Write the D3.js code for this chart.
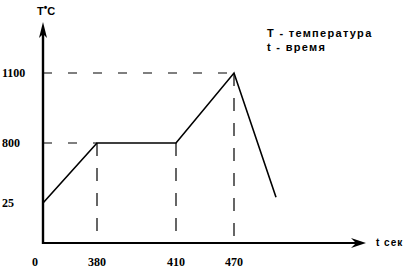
<!DOCTYPE html>
<html>
<head>
<meta charset="utf-8">
<script src="https://cdn.jsdelivr.net/npm/d3@7"></script>
<style>
  body { margin: 0; background: #fff; }
</style>
</head>
<body>
<div id="chart"></div>
<script>
// data
const timeTicks = [0, 380, 410, 470];
const tempTicks = [25, 800, 1100];
const pointsTime = [0, 380, 410, 470, 500];
const pointsTemp = [25, 800, 800, 1100, 100];
const legendLines = ["T - температура", "t - время"];

const svg = d3.select("#chart")
  .append("svg")
  .attr("width", 407)
  .attr("height", 270);

// schematic (non uniform) axes
const x = d3.scaleLinear()
  .domain([0, 380, 410, 470, 500])
  .range([43, 97, 176, 234, 276]);

const y = d3.scaleLinear()
  .domain([0, 25, 800, 1100])
  .range([243, 203, 143, 73]);

const data = pointsTime.map((t, i) => ({ t: t, v: pointsTemp[i] }));

// dashed guides
const guides = data.slice(1, 4);
svg.selectAll(".hguide")
  .data(guides.filter(d => d.t != 410))
  .enter().append("line")
  .attr("x1", x(0)).attr("x2", d => x(d.t))
  .attr("y1", d => y(d.v)).attr("y2", d => y(d.v))
  .attr("stroke", "#000").attr("stroke-width", 1.2)
  .attr("stroke-dasharray", "9,16");

svg.selectAll(".vguide")
  .data(guides)
  .enter().append("line")
  .attr("x1", d => x(d.t)).attr("x2", d => x(d.t))
  .attr("y1", d => y(d.v)).attr("y2", y(0))
  .attr("stroke", "#000").attr("stroke-width", 1.2)
  .attr("stroke-dasharray", "13,12");

// curve
const line = d3.line()
  .x(d => x(d.t))
  .y(d => y(d.v));

svg.append("path")
  .datum(data)
  .attr("fill", "none")
  .attr("stroke", "#000")
  .attr("stroke-width", 1.6)
  .attr("d", line);

// axes with arrows
svg.append("line")
  .attr("x1", x(0)).attr("x2", 360)
  .attr("y1", y(0)).attr("y2", y(0))
  .attr("stroke", "#000").attr("stroke-width", 2);
svg.append("path")
  .attr("d", `M366,${y(0)} L351,${y(0) - 5} L356,${y(0)} L351,${y(0) + 5} Z`)
  .attr("fill", "#000");

svg.append("line")
  .attr("x1", x(0)).attr("x2", x(0))
  .attr("y1", y(0) + 1).attr("y2", 30)
  .attr("stroke", "#000").attr("stroke-width", 2.4);
svg.append("path")
  .attr("d", `M${x(0)},22 L${x(0) - 4},38 L${x(0)},34 L${x(0) + 4},38 Z`)
  .attr("fill", "#000");

// tick labels
const serif = "'Liberation Serif', 'DejaVu Serif', serif";
svg.selectAll(".ytick")
  .data(tempTicks)
  .enter().append("text")
  .attr("x", 2)
  .attr("y", d => y(d) + 4)
  .attr("font-family", serif)
  .attr("font-weight", "bold")
  .attr("font-size", 12)
  .text(d => d);

svg.selectAll(".xtick")
  .data(timeTicks)
  .enter().append("text")
  .attr("x", d => d == 0 ? 35 : x(d))
  .attr("y", 266)
  .attr("text-anchor", "middle")
  .attr("font-family", serif)
  .attr("font-weight", "bold")
  .attr("font-size", 12)
  .text(d => d);

// axis titles
const sans = "'Liberation Sans', Arial, sans-serif";
const yTitle = svg.append("text")
  .attr("x", 37).attr("y", 15)
  .attr("font-family", sans)
  .attr("font-weight", "bold")
  .attr("font-size", 11);
yTitle.append("tspan").text("T");
yTitle.append("tspan").attr("dy", -4).attr("font-size", 10).text("•");
yTitle.append("tspan").attr("dy", 4).text("C");

svg.append("text")
  .attr("x", 376).attr("y", 246)
  .attr("font-family", sans)
  .attr("font-weight", "bold")
  .attr("font-size", 10)
  .attr("letter-spacing", 1)
  .text("t сек");

// legend
svg.selectAll(".legend")
  .data(legendLines)
  .enter().append("text")
  .attr("x", 267)
  .attr("y", (d, i) => 37 + i * 14)
  .attr("font-family", sans)
  .attr("font-weight", "bold")
  .attr("font-size", 11)
  .attr("letter-spacing", 1.3)
  .text(d => d);
</script>
</body>
</html>
